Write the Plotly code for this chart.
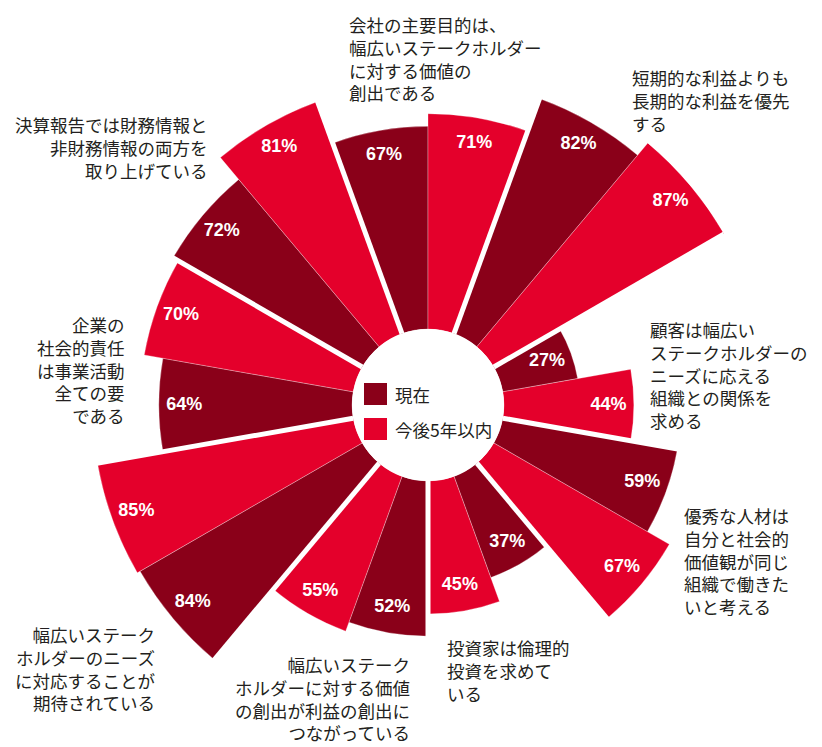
import plotly.graph_objects as go

# ---- data -------------------------------------------------------------
categories = [
    "会社の主要目的は、<br>幅広いステークホルダー<br>に対する価値の<br>創出である",
    "短期的な利益よりも<br>長期的な利益を優先<br>する",
    "顧客は幅広い<br>ステークホルダーの<br>ニーズに応える<br>組織との関係を<br>求める",
    "優秀な人材は<br>自分と社会的<br>価値観が同じ<br>組織で働きた<br>いと考える",
    "投資家は倫理的<br>投資を求めて<br>いる",
    "幅広いステーク<br>ホルダーに対する価値<br>の創出が利益の創出に<br>つながっている",
    "幅広いステーク<br>ホルダーのニーズ<br>に対応することが<br>期待されている",
    "企業の<br>社会的責任<br>は事業活動<br>全ての要<br>である",
    "決算報告では財務情報と<br>非財務情報の両方を<br>取り上げている",
]
current = [67, 82, 27, 59, 37, 52, 84, 64, 72]        # 現在
future = [71, 87, 44, 67, 45, 55, 85, 70, 81]         # 今後5年以内
series_names = ["現在", "今後5年以内"]

# ---- style / layout ---------------------------------------------------
W, H = 822, 747
DARK = "#8a0019"
RED = "#e4002b"
TEXT = "#231f20"
CJK = "Noto Sans CJK JP"
LABEL_SIZE = 17.5

R_MIN, R_MAX = 3, 87          # radial axis range
SECTOR = 360 / len(categories)
BAR_W = SECTOR / 2

# category label placement in pixels: (x, y_top, side), same order as categories
label_pos = [
    (347, 10, "left"),
    (630, 63, "left"),
    (648, 315, "left"),
    (682, 501, "left"),
    (445, 633, "left"),
    (412, 650, "right"),
    (157, 620, "right"),
    (127, 310, "right"),
    (210, 110, "right"),
]

theta_cur = [SECTOR * i - BAR_W / 2 for i in range(len(categories))]
theta_fut = [SECTOR * i + BAR_W / 2 for i in range(len(categories))]

fig = go.Figure()

for name, vals, th, col in [
    (series_names[0], current, theta_cur, DARK),
    (series_names[1], future, theta_fut, RED),
]:
    fig.add_trace(go.Barpolar(
        r=vals, theta=th, width=[BAR_W] * len(vals), base=0,
        name=name, marker=dict(color=col, line=dict(color="rgba(255,255,255,0.5)", width=0.6)),
        hoverinfo="skip", showlegend=False,
    ))

# white separators between category groups
sep_r, sep_t = [], []
for i in range(len(categories)):
    b = SECTOR * i + SECTOR / 2
    sep_r += [R_MIN, R_MAX, None]
    sep_t += [b, b, None]
fig.add_trace(go.Scatterpolar(
    r=sep_r, theta=sep_t, mode="lines",
    line=dict(color="white", width=5), hoverinfo="skip", showlegend=False,
))

# value labels inside each bar
for vals, th in [(current, theta_cur), (future, theta_fut)]:
    fig.add_trace(go.Scatterpolar(
        r=[v - 8 for v in vals], theta=th, mode="text",
        text=[f"{v}%" for v in vals], textposition="middle center",
        textfont=dict(color="white", size=18, family="Liberation Sans, Arial, sans-serif", weight="bold"),
        hoverinfo="skip", showlegend=False,
    ))

# polar domain: centre (428, 405), radius 342 px
cx, cy, rad = 428, 405, 342
fig.update_layout(
    width=W, height=H,
    margin=dict(l=0, r=0, t=0, b=0),
    paper_bgcolor="white", plot_bgcolor="white",
    polar=dict(
        domain=dict(x=[(cx - rad) / W, (cx + rad) / W],
                    y=[1 - (cy + rad) / H, 1 - (cy - rad) / H]),
        hole=76 / rad,
        bgcolor="white",
        radialaxis=dict(range=[R_MIN, R_MAX], visible=False),
        angularaxis=dict(direction="clockwise", rotation=90, showgrid=False,
                         showticklabels=False, showline=False, ticks=""),
        bargap=0,
    ),
    showlegend=False,
)

# category labels
annotations = []
for text, (px, py, side) in zip(categories, label_pos):
    annotations.append(dict(
        x=px / W, y=1 - py / H, xref="paper", yref="paper",
        text=text, showarrow=False, xanchor=side, yanchor="top", align=side,
        font=dict(family=CJK, size=LABEL_SIZE, color=TEXT),
    ))

# legend in the hole
shapes = []
for k, (name, col) in enumerate(zip(series_names, [DARK, RED])):
    y0 = 383 + k * 35
    shapes.append(dict(type="rect", xref="paper", yref="paper",
                       x0=364 / W, x1=387 / W, y0=1 - (y0 + 22) / H, y1=1 - y0 / H,
                       fillcolor=col, line=dict(width=0)))
    annotations.append(dict(
        x=393 / W, y=1 - (y0 + 11) / H, xref="paper", yref="paper",
        text=name, showarrow=False, xanchor="left", yanchor="middle",
        font=dict(family=CJK, size=LABEL_SIZE, color=TEXT),
    ))

fig.update_layout(annotations=annotations, shapes=shapes)
fig.write_html("out.html")
